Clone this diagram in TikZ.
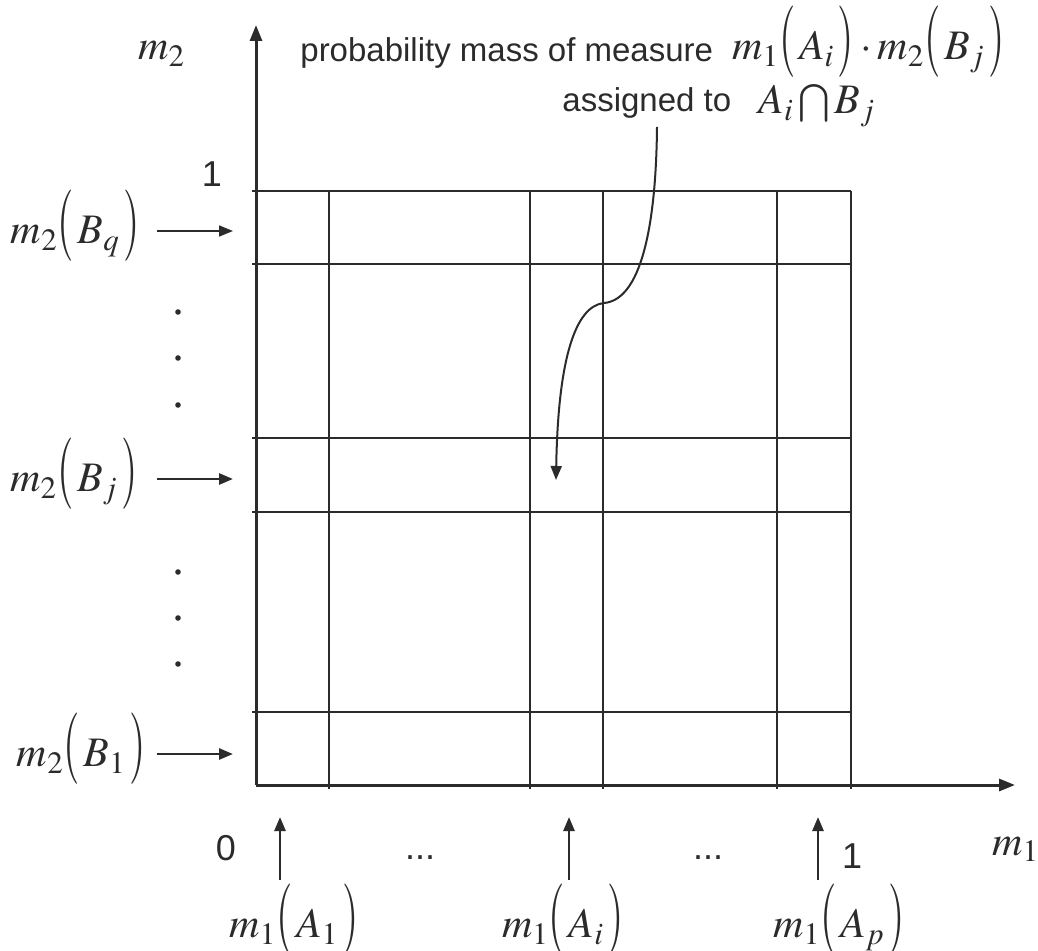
\documentclass[tikz,border=0pt]{standalone}
\usepackage{graphicx}
\usepackage{mathptmx}
\usepackage[no-math]{fontspec}
\setmainfont{Liberation Sans}
\usetikzlibrary{arrows.meta}
\definecolor{figink}{HTML}{2B2B2B}
\newcommand{\lpar}{\mathopen{\scalebox{1}[1.7]{$($}}\mkern1.5mu}
\newcommand{\rpar}{\mkern1.5mu\mathclose{\scalebox{1}[1.7]{$)$}}}
\tikzset{
  txt/.style={font=\fontsize{16.5}{20}\selectfont, inner sep=0pt, text=figink},
  num/.style={font=\fontsize{18}{22}\selectfont, inner sep=0pt, text=figink},
  mth/.style={font=\fontsize{21}{25}\selectfont, inner sep=0pt, text=figink},
  axis/.style={-{Triangle[length=8pt,width=6pt]}, line width=1.5pt, color=figink},
  gridln/.style={line width=0.7pt, color=figink},
  arr/.style={-{Triangle[length=7pt,width=5.5pt]}, line width=1.3pt, color=figink},
  arrthin/.style={arr, line width=0.8pt},
  crv/.style={-{Triangle[length=7pt,width=5.5pt]}, line width=1pt, color=figink},
}

\begin{document}
\begin{tikzpicture}[x=0.5pt, y=-0.5pt]
  \useasboundingbox (0,0) rectangle (1038,951);
  % axes and the p x q cells
  \coordinate (O) at (256,785);
  \coordinate (yEnd) at (256,25);
  \coordinate (xEnd) at (1015,785);
  \foreach \xx in {329,530,603,777,851} \draw[gridln] (\xx,191) -- (\xx,789);
  \foreach \yy in {191,264,438,512,712} \draw[gridln] (252,\yy) -- (851,\yy);
  \draw[axis] (O) -- (yEnd);
  \draw[axis] (O) -- (xEnd);
  \node[mth, anchor=base west] (m2ax) at (138,60) {$m_2$};
  \node[mth, anchor=base west] (m1ax) at (992,855) {$m_1$};
  \node[num] (oneY) at (212,174) {1};
  \node[num] (zero) at (226,848) {0};
  \node[num] (oneX) at (852,856) {1};
  % left: masses of the B's
  \node[mth, anchor=east] (Bq) at (140,226) {$m_2\lpar B_q\rpar$};
  \node[mth, anchor=east] (Bj) at (138,474) {$m_2\lpar B_j\rpar$};
  \node[mth, anchor=east] (B1) at (146,749) {$m_2\lpar B_1\rpar$};
  \coordinate (hBq) at (233,231);
  \coordinate (hBj) at (233,479);
  \coordinate (hB1) at (233,754);
  \draw[arrthin] (hBq) ++(-76,0) coordinate (sBq) -- (hBq);
  \draw[arr] (hBj) ++(-76,0) coordinate (sBj) -- (hBj);
  \draw[arr] (hB1) ++(-76,0) coordinate (sB1) -- (hB1);
  \foreach \yy in {312,358,405,572,618,664} \fill[figink] (178,\yy) circle (1.4pt);
  % bottom: masses of the A's
  \node[mth, anchor=north] (A1) at (294,884) {$m_1\lpar A_1\rpar$};
  \node[mth, anchor=north] (Ai) at (563,884) {$m_1\lpar A_i\rpar$};
  \node[mth, anchor=north] (Ap) at (839,884) {$m_1\lpar A_p\rpar$};
  \coordinate (tA1) at (280,817);
  \coordinate (tAi) at (569,817);
  \coordinate (tAp) at (818,817);
  \draw[arr, shorten <=2pt] (tA1 |- A1.north) -- (tA1);
  \draw[arr, shorten <=2pt] (tAi |- Ai.north) -- (tAi);
  \draw[arr, shorten <=2pt] (tAp |- Ap.north) -- (tAp);
  \node[num] (dotsL) at (420,858) {...};
  \node[num] (dotsR) at (708,858) {...};
  % note on the product mass
  \node[txt, anchor=base west] (prob) at (300,62) {probability mass of measure};
  \node[mth, anchor=base west] (prod) at (732,60) {$m_1\lpar A_i\rpar\cdot m_2\lpar B_j\rpar$};
  \node[txt, anchor=base west] (asg) at (562,112) {assigned to};
  \node[mth, anchor=base west] (cap) at (758,114) {$A_i\bigcap B_j$};
  \coordinate (cTop) at (657,127);
  \coordinate (cMid) at (604,303);
  \coordinate (cCell) at (556,480);
  \draw[crv] (cTop) .. controls (656,230) and (640,300) .. (cMid)
    .. controls (575,306) and (558,360) .. (cCell);
\end{tikzpicture}
\end{document}
